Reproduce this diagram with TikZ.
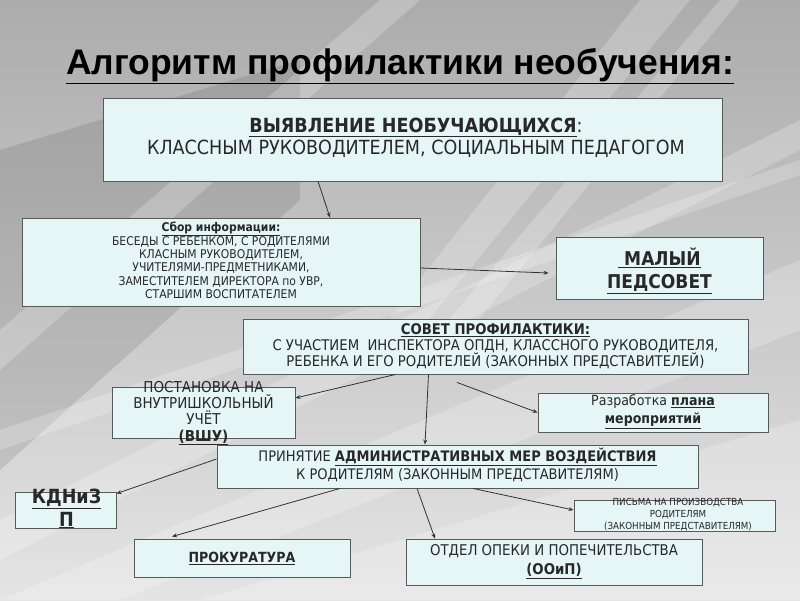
\documentclass[tikz,border=0pt]{standalone}
\usepackage{fontspec}
\setmainfont{DejaVu Sans}[FakeStretch=0.9]
\newfontfamily\titlefont{Liberation Sans}
\usetikzlibrary{arrows.meta}
\definecolor{boxfill}{RGB}{230,246,246}
\definecolor{boxline}{RGB}{85,90,90}
\definecolor{txtcol}{RGB}{40,40,40}
\definecolor{bgtop}{RGB}{172,172,172}
\definecolor{bgbot}{RGB}{228,228,228}
\tikzset{
  box/.style={draw=boxline, fill=boxfill, line width=0.9pt, inner sep=0pt, rectangle},
  txt/.style={align=center, inner sep=0pt, text=txtcol},
  arr/.style={draw=black!80, line width=0.8pt, -{Stealth[length=5pt,width=4pt]}},
  streak/.style={fill=white, opacity=0.22},
  shadowband/.style={fill=black, opacity=0.10}
}
\begin{document}
\begin{tikzpicture}[x=1pt,y=-1pt]
\useasboundingbox (0,0) rectangle (800,600);
% background
\shade[top color=bgtop, bottom color=bgbot] (0,0) rectangle (800,600);
\fill[shadowband] (0,150) -- (300,60) -- (300,200) -- (0,470) -- cycle;
\fill[streak] (0,600) -- (800,260) -- (800,330) -- (120,600) -- cycle;
\fill[streak] (0,520) -- (800,120) -- (800,150) -- (0,560) -- cycle;
\fill[streak] (380,330) -- (640,0) -- (690,0) -- (420,330) -- cycle;
\fill[streak] (440,330) -- (720,0) -- (740,0) -- (470,330) -- cycle;
\fill[streak] (0,330) -- (380,0) -- (420,0) -- (0,370) -- cycle;
\fill[streak] (200,600) -- (800,420) -- (800,600) -- cycle;
\fill[streak] (0,430) -- (800,160) -- (800,175) -- (0,450) -- cycle;

% title
\node[inner sep=0pt, text=black, font=\titlefont\bfseries\fontsize{35.5}{40}\selectfont] (title) at (400,66) {\underline{Алгоритм профилактики необучения:}};

% boxes
\node[box, minimum width=619pt, minimum height=83pt] (b1) at (412.5,139.5) {};
\node[txt, font=\fontsize{19.5}{22}\selectfont] (t1) at (416,137.5)
  {\textbf{\underline{ВЫЯВЛЕНИЕ НЕОБУЧАЮЩИХСЯ}}:\\КЛАССНЫМ РУКОВОДИТЕЛЕМ, СОЦИАЛЬНЫМ ПЕДАГОГОМ};

\node[box, minimum width=398pt, minimum height=88pt] (sbor) at (221,262) {};
\node[txt, font=\fontsize{12}{13.2}\selectfont] (tsbor) at (221,260)
  {\textbf{\underline{Сбор информации:}}\\БЕСЕДЫ С РЕБЕНКОМ, С РОДИТЕЛЯМИ\\КЛАСНЫМ РУКОВОДИТЕЛЕМ,\\УЧИТЕЛЯМИ-ПРЕДМЕТНИКАМИ,\\ЗАМЕСТИТЕЛЕМ ДИРЕКТОРА по УВР,\\СТАРШИМ ВОСПИТАТЕЛЕМ};

\node[box, minimum width=207pt, minimum height=62pt] (malyi) at (659.5,268) {};
\node[txt, font=\bfseries\fontsize{19}{23}\selectfont] (tmalyi) at (659.5,271)
  {\underline{\ МАЛЫЙ}\\\underline{ПЕДСОВЕТ}};

\node[box, minimum width=505pt, minimum height=55pt] (sovet) at (495.5,346.5) {};
\node[txt, font=\fontsize{14.7}{16}\selectfont] (tsovet) at (495.5,346)
  {\textbf{\underline{СОВЕТ ПРОФИЛАКТИКИ:}}\\С УЧАСТИЕМ\ \ ИНСПЕКТОРА ОПДН, КЛАССНОГО РУКОВОДИТЕЛЯ,\\РЕБЕНКА И ЕГО РОДИТЕЛЕЙ (ЗАКОННЫХ ПРЕДСТАВИТЕЛЕЙ)};

\node[box, minimum width=183pt, minimum height=51pt] (post) at (203.5,412.5) {};
\node[txt, font=\fontsize{15}{16.3}\selectfont] (tpost) at (203.5,413)
  {ПОСТАНОВКА НА\\ВНУТРИШКОЛЬНЫЙ\\УЧЁТ\\\textbf{\underline{(ВШУ)}}};

\node[box, minimum width=230pt, minimum height=39pt] (razr) at (653,412.5) {};
\node[txt, font=\fontsize{14}{18}\selectfont] (trazr) at (653,412)
  {Разработка \textbf{\underline{плана}}\\\textbf{\underline{мероприятий}}};

\node[box, minimum width=481pt, minimum height=43pt] (prin) at (457.5,466.5) {};
\node[txt, font=\fontsize{14.5}{18}\selectfont] (tprin) at (457.5,465)
  {ПРИНЯТИЕ \textbf{\underline{АДМИНИСТРАТИВНЫХ МЕР ВОЗДЕЙСТВИЯ}}\\К РОДИТЕЛЯМ (ЗАКОННЫМ ПРЕДСТАВИТЕЛЯМ)};

\node[box, minimum width=101pt, minimum height=36pt] (kdn) at (65.5,510) {};
\node[txt, font=\bfseries\fontsize{19.5}{23}\selectfont] (tkdn) at (66.5,508.5)
  {\underline{КДНиЗ}\\\underline{П}};

\node[box, minimum width=201pt, minimum height=31pt] (pisma) at (674.5,515.5) {};
\node[txt, font=\fontsize{9.7}{12}\selectfont] (tpisma) at (678,515)
  {ПИСЬМА НА ПРОИЗВОДСТВА\\РОДИТЕЛЯМ\\(ЗАКОННЫМ ПРЕДСТАВИТЕЛЯМ)};

\node[box, minimum width=216pt, minimum height=38pt] (prok) at (242,558) {};
\node[txt, font=\bfseries\fontsize{14}{16}\selectfont] (tprok) at (242,558)
  {\underline{ПРОКУРАТУРА}};

\node[box, minimum width=296pt, minimum height=46pt] (otdel) at (554,562) {};
\node[txt, font=\fontsize{14.8}{19}\selectfont] (totdel) at (554,561.5)
  {ОТДЕЛ ОПЕКИ И ПОПЕЧИТЕЛЬСТВА\\\textbf{\underline{(ООиП)}}};

% connectors
\draw[arr] ([xshift=-94.5pt]b1.south) -- ([xshift=109pt]sbor.north);
\draw[arr] ([yshift=-6pt]sbor.east) -- ([xshift=-7pt,yshift=-5pt]malyi.west);
\draw[arr] ([xshift=-100pt]sovet.south) -- ([yshift=14.5pt]post.east);
\draw[arr] ([xshift=-67pt]sovet.south) -- ([xshift=-32.5pt]prin.north);
\draw[arr] ([xshift=-38.5pt,yshift=-8pt]sovet.south) -- (razr.west);
\draw[arr] ([yshift=7.5pt]prin.west) -- ([yshift=-2pt]kdn.north east);
\draw[arr] ([xshift=-117.5pt]prin.south) -- ([xshift=-70pt,yshift=2pt]prok.north);
\draw[arr] ([xshift=-40.5pt]prin.south) -- ([xshift=-119pt]otdel.north);
\draw[arr] ([xshift=15.5pt]prin.south) -- ([yshift=5.5pt]pisma.west);
\end{tikzpicture}
\end{document}
